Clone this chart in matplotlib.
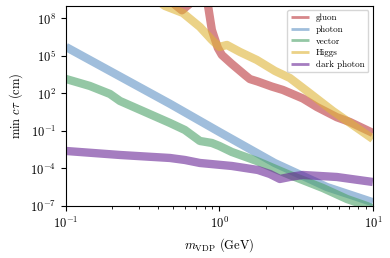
import numpy as np
import matplotlib
matplotlib.use("Agg")
import matplotlib.pyplot as plt
from matplotlib.ticker import FixedLocator, NullLocator

plt.rcParams["font.family"] = "serif"
plt.rcParams["font.serif"] = ["cmr10"]
plt.rcParams["mathtext.fontset"] = "cm"
plt.rcParams["axes.formatter.use_mathtext"] = True

# curves, stored as log10 values
gluon_logm = [-0.36, -0.29, -0.244, -0.20, -0.15, -0.10, -0.075, -0.049, -0.010, 0.016,
              0.081, 0.166, 0.199, 0.251, 0.342, 0.414, 0.544, 0.635, 0.765, 0.85, 1.0]
gluon_logct = [10.2, 9.1, 8.65, 9.1, 9.8, 10.0, 9.1, 7.08, 5.64, 5.08,
               4.36, 3.48, 3.15, 2.95, 2.55, 2.28, 1.6, 0.92, 0.1, -0.28, -1.16]

photon_logm = [-1.0, -0.32, 0.0, 0.36, 0.7, 1.0]
photon_logct = [5.72, 1.16, -1.08, -3.56, -5.48, -6.7]

vector_logm = [-1.0, -0.844, -0.713, -0.648, -0.322, -0.225, -0.127, -0.049, 0.0,
               0.081, 0.244, 0.459, 0.674, 0.831, 0.961, 1.0]
vector_logct = [3.16, 2.6, 1.96, 1.4, -0.36, -0.92, -1.8, -1.96, -2.2,
                -2.68, -3.4, -4.52, -5.56, -6.44, -7.0, -7.2]

higgs_logm = [-0.42, -0.355, -0.238, -0.127, -0.049, 0.0, 0.049, 0.134, 0.244,
              0.362, 0.459, 0.570, 0.739, 1.0]
higgs_logct = [9.6, 9.0, 8.44, 7.32, 6.28, 5.72, 5.88, 5.32, 4.68,
               3.8, 3.24, 2.2, 0.6, -1.64]

dark_logm = [-1.0, -0.648, -0.322, -0.225, -0.127, 0.081, 0.251, 0.329, 0.394,
             0.459, 0.544, 0.765, 1.0]
dark_logct = [-2.6, -2.92, -3.16, -3.32, -3.56, -3.8, -4.12, -4.44, -4.84,
              -4.68, -4.52, -4.68, -5.08]

series = [
    ("gluon", gluon_logm, gluon_logct, "#BC373C"),
    ("photon", photon_logm, photon_logct, "#6193C5"),
    ("vector", vector_logm, vector_logct, "#4DA369"),
    ("Higgs", higgs_logm, higgs_logct, "#DFB437"),
    ("dark photon", dark_logm, dark_logct, "#692696"),
]

fig = plt.figure(figsize=(3.9, 2.58), dpi=100)
ax = fig.add_axes([0.169, 0.2016, 0.787, 0.7754])

for name, lm, lc, color in series:
    ax.plot(10 ** np.array(lm), 10 ** np.array(lc), color=color, lw=6,
            alpha=0.6, label=name, solid_capstyle="butt")

ax.set_xscale("log")
ax.set_yscale("log")
ax.set_xlim(0.1, 10)
ax.set_ylim(1e-7, 1e9)
ax.yaxis.set_major_locator(FixedLocator([1e-7, 1e-4, 1e-1, 1e2, 1e5, 1e8]))
ax.yaxis.set_minor_locator(NullLocator())
ax.tick_params(labelsize=9)

ax.set_xlabel(r"$m_{\rm VDP}$ (GeV)", fontsize=9)
ax.set_ylabel(r"min $c\tau$ (cm)", fontsize=9)

leg = ax.legend(loc="upper right", fontsize=6.5, handlelength=2.0,
                labelspacing=0.35, borderpad=0.4)
for line in leg.get_lines():
    line.set_linewidth(2)

fig.savefig("out.png", dpi=100)
